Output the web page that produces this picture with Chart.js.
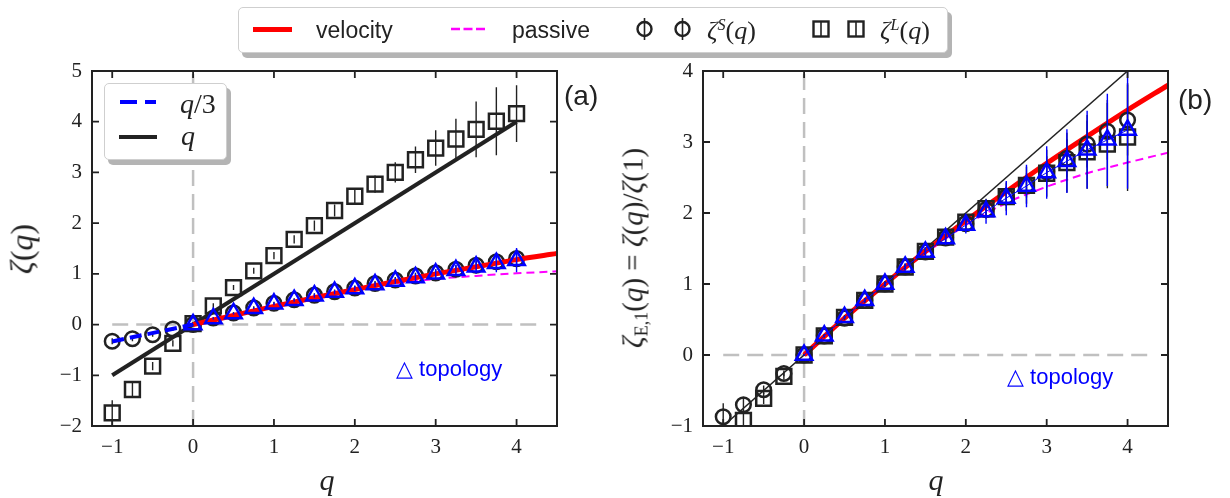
<!DOCTYPE html>
<html>
<head>
<meta charset="utf-8">
<script src="https://cdn.jsdelivr.net/npm/chart.js@4.4.0/dist/chart.umd.min.js"></script>
<style>
html,body{margin:0;padding:0;background:#fff;}
#wrap{position:relative;width:1230px;height:498px;overflow:hidden;background:#fff;}
canvas{position:absolute;top:0;}
.abs{position:absolute;white-space:nowrap;z-index:5;}
.sans{font-family:"Liberation Sans",Arial,sans-serif;color:#222;}
.math{font-family:"Liberation Serif","DejaVu Serif",serif;color:#222;}
.box{position:absolute;box-sizing:border-box;background:#fff;border:1.5px solid #cfcfcf;border-radius:5px;box-shadow:4px 5px 0 #b4b4b4;z-index:4;}
.vc{transform:translateY(-50%);}
sup{font-size:0.62em;vertical-align:0.55em;line-height:0;}
sub{font-size:0.62em;vertical-align:-0.3em;line-height:0;}
</style>
</head>
<body>
<div id="wrap">
  <canvas id="ca" width="620" height="498" style="left:0"></canvas>
  <canvas id="cb" width="610" height="498" style="left:620px"></canvas>

  <!-- top legend -->
  <div class="box" style="left:238px;top:7px;width:710px;height:46px;"></div>
  <div class="abs" style="left:253px;top:27px;width:39px;height:4.5px;background:#ff0000;"></div>
  <div class="abs sans vc" style="left:316px;top:30px;font-size:23px;">velocity</div>
  <svg class="abs" style="left:450px;top:24px;" width="36" height="10"><line x1="1" y1="5" x2="35" y2="5" stroke="#ff00ff" stroke-width="2.5" stroke-dasharray="9,3.5"/></svg>
  <div class="abs sans vc" style="left:512px;top:30px;font-size:23px;">passive</div>
  <svg class="abs" style="left:630px;top:15px;" width="70" height="30">
    <circle cx="14.5" cy="14" r="7" fill="none" stroke="#222" stroke-width="2.4"/>
    <line x1="14.5" y1="3" x2="14.5" y2="25" stroke="#222" stroke-width="1.6"/>
    <circle cx="52.5" cy="14" r="7" fill="none" stroke="#222" stroke-width="2.4"/>
    <line x1="52.5" y1="3" x2="52.5" y2="25" stroke="#222" stroke-width="1.6"/>
  </svg>
  <div class="abs math vc" style="left:707px;top:31px;font-size:26px;"><i>ζ</i><sup><i>S</i></sup>(<i>q</i>)</div>
  <svg class="abs" style="left:806px;top:15px;" width="70" height="30">
    <rect x="7.5" y="6.5" width="15" height="15" fill="none" stroke="#222" stroke-width="2.4"/>
    <line x1="15" y1="6" x2="15" y2="22" stroke="#222" stroke-width="1.6"/>
    <rect x="42.5" y="6.5" width="15" height="15" fill="none" stroke="#222" stroke-width="2.4"/>
    <line x1="50" y1="6" x2="50" y2="22" stroke="#222" stroke-width="1.6"/>
  </svg>
  <div class="abs math vc" style="left:880px;top:31px;font-size:26px;"><i>ζ</i><sup><i>L</i></sup>(<i>q</i>)</div>

  <!-- inner legend, panel (a) -->
  <div class="box" style="left:104px;top:83px;width:123px;height:77px;"></div>
  <svg class="abs" style="left:118px;top:96px;" width="42" height="12"><line x1="2" y1="6" x2="38" y2="6" stroke="#0000ff" stroke-width="4" stroke-dasharray="17,8"/></svg>
  <div class="abs math vc" style="left:180px;top:104px;font-size:28px;"><i>q</i>/3</div>
  <div class="abs" style="left:119px;top:135px;width:38px;height:4px;background:#222;"></div>
  <div class="abs math vc" style="left:181px;top:136px;font-size:28px;"><i>q</i></div>

  <!-- panel labels -->
  <div class="abs sans vc" style="left:564px;top:96px;font-size:28px;">(a)</div>
  <div class="abs sans vc" style="left:1178px;top:100px;font-size:28px;">(b)</div>
  <div class="abs sans vc" style="left:396px;top:369px;font-size:22px;color:#0000ff;">△ topology</div>
  <div class="abs sans vc" style="left:1007px;top:377px;font-size:22px;color:#0000ff;">△ topology</div>

  <!-- axis titles -->
  <div class="abs math" style="left:22px;top:249px;font-size:32px;transform:translate(-50%,-50%) rotate(-90deg);"><i>ζ</i>(<i>q</i>)</div>
  <div class="abs math" style="left:633px;top:248px;font-size:29px;transform:translate(-50%,-50%) rotate(-90deg);"><i>ζ</i><sub>E,1</sub>(<i>q</i>) = <i>ζ</i>(<i>q</i>)/<i>ζ</i>(1)</div>
  <div class="abs math" style="left:327px;top:465px;font-size:30px;line-height:30px;transform:translateX(-50%);"><i>q</i></div>
  <div class="abs math" style="left:936px;top:465px;font-size:30px;line-height:30px;transform:translateX(-50%);"><i>q</i></div>
</div>

<script>
// ---------- data ----------
const qAll = [-1,-0.75,-0.5,-0.25,0,0.25,0.5,0.75,1,1.25,1.5,1.75,2,2.25,2.5,2.75,3,3.25,3.5,3.75,4];
const qPos = [0,0.25,0.5,0.75,1,1.25,1.5,1.75,2,2.25,2.5,2.75,3,3.25,3.5,3.75,4];
const qModel = [0,0.5,1,1.5,2,2.5,3,3.5,4,4.5];

// reference lines
const lineQx = [-1,4];
const lineQy = [-1,4];
const lineQ3x = [-1,0];
const lineQ3y = [-0.333,0];
const zeroHx = [-1,4.25];
const zeroHy = [0,0];
const zeroVx = [0,0];
const zeroVyA = [-2,5];
const zeroVyB = [-1,4];

// panel (a): zeta(q)
const zetaS_a = [-0.33,-0.28,-0.2,-0.09,0,0.13,0.23,0.33,0.42,0.49,0.58,0.65,0.72,0.81,0.88,0.96,1.02,1.09,1.17,1.24,1.30];
const errS_a  = [0.06,0.05,0.04,0.03,0.01,0.02,0.02,0.03,0.03,0.03,0.04,0.04,0.05,0.05,0.06,0.06,0.07,0.08,0.09,0.1,0.12];
const zetaL_a = [-1.74,-1.28,-0.82,-0.37,0.02,0.37,0.73,1.06,1.36,1.68,1.95,2.25,2.53,2.77,3.0,3.25,3.48,3.66,3.85,4.01,4.16];
const errL_a  = [0.25,0.15,0.08,0.06,0.03,0.05,0.05,0.06,0.07,0.08,0.1,0.12,0.15,0.17,0.2,0.26,0.35,0.4,0.55,0.67,0.56];
const zetaT_a = [0,0.12,0.22,0.32,0.41,0.48,0.57,0.64,0.71,0.79,0.86,0.93,1.0,1.07,1.14,1.21,1.27];
const errT_a  = [0.01,0.02,0.02,0.02,0.03,0.03,0.04,0.04,0.05,0.05,0.06,0.07,0.09,0.11,0.14,0.18,0.24];
const velA = [0,0.18,0.36,0.53,0.69,0.85,1.0,1.14,1.28,1.40];
const pasA = [0,0.19,0.37,0.54,0.68,0.81,0.9,0.96,1.01,1.05];

// panel (b): zeta(q)/zeta(1)
const zetaS_b = [-0.87,-0.70,-0.49,-0.26,0,0.27,0.52,0.77,1.0,1.24,1.45,1.65,1.85,2.05,2.23,2.39,2.58,2.77,2.97,3.15,3.31];
const errS_b  = [0.19,0.1,0.06,0.04,0.01,0.02,0.02,0.03,0.03,0.04,0.05,0.06,0.08,0.1,0.13,0.17,0.22,0.27,0.33,0.4,0.5];
const zetaL_b = [-1.28,-0.92,-0.61,-0.30,0,0.27,0.53,0.77,1.0,1.24,1.46,1.66,1.87,2.06,2.23,2.39,2.56,2.71,2.86,2.97,3.07];
const errL_b  = [0.2,0.12,0.08,0.05,0.01,0.02,0.03,0.03,0.04,0.05,0.06,0.08,0.1,0.14,0.2,0.26,0.33,0.42,0.52,0.62,0.76];
const zetaT_b = [0,0.27,0.53,0.77,1.0,1.24,1.45,1.64,1.83,2.02,2.21,2.38,2.57,2.73,2.89,3.03,3.17];
const errT_b  = [0.01,0.02,0.02,0.03,0.03,0.05,0.07,0.09,0.12,0.17,0.24,0.3,0.37,0.45,0.55,0.65,0.83];
const velB = [0,0.52,1.0,1.46,1.89,2.3,2.7,3.08,3.45,3.80];
const pasB = [0,0.53,1.0,1.43,1.83,2.14,2.37,2.56,2.71,2.85];

// ---------- helpers ----------
const INK = '#222222', BLUE = '#0000ff', RED = '#ff0000', MAG = '#ff00ff', GRAY = '#c0c0c0';
function pts(xs, ys){ return xs.map((x,i)=>({x:x, y:ys[i]})); }
function errPts(xs, ys, es){
  const out = [];
  xs.forEach((x,i)=>{ out.push({x:x,y:ys[i]-es[i]},{x:x,y:ys[i]+es[i]},{x:x,y:null}); });
  return out;
}
function lineDs(data, color, width, dash, order, extra){
  return Object.assign({data:data, showLine:true, borderColor:color, backgroundColor:color,
    borderWidth:width, borderDash:dash||[], pointRadius:0, pointHoverRadius:0, spanGaps:false,
    tension:0, order:order}, extra||{});
}
function markDs(data, style, radius, color, order){
  return {data:data, showLine:false, pointStyle:style, pointRadius:radius, pointHoverRadius:radius,
    pointBorderWidth:2.5, pointBorderColor:color, pointBackgroundColor:'rgba(0,0,0,0)',
    borderColor:color, backgroundColor:'rgba(0,0,0,0)', order:order};
}
const fmt = v => (v < 0 ? '\u2212' : '') + Math.abs(v);
const tickFont = {family:'"Liberation Serif","DejaVu Serif",serif', size:21};
function scales(xmin,xmax,ymin,ymax,yw){
  return {
    x:{type:'linear',min:xmin,max:xmax,
       ticks:{stepSize:1,includeBounds:false,padding:9,font:tickFont,color:INK,callback:fmt,maxRotation:0,autoSkip:false},
       grid:{display:false,drawTicks:false},border:{display:false},
       afterFit(s){ s.height = 72; }},
    y:{type:'linear',min:ymin,max:ymax,
       ticks:{stepSize:1,includeBounds:false,padding:10,font:tickFont,color:INK,callback:fmt,autoSkip:false},
       grid:{display:false,drawTicks:false},border:{display:false},
       afterFit(s){ s.width = yw; }}
  };
}
const frame = {
  id:'frame',
  afterDatasetsDraw(chart){
    const ctx = chart.ctx, a = chart.chartArea, x = chart.scales.x, y = chart.scales.y;
    const L = 7;
    ctx.save();
    ctx.strokeStyle = INK;
    ctx.lineWidth = 1.8;
    ctx.beginPath();
    x.ticks.forEach(t=>{ const p = x.getPixelForValue(t.value);
      ctx.moveTo(p,a.bottom); ctx.lineTo(p,a.bottom-L); ctx.moveTo(p,a.top); ctx.lineTo(p,a.top+L); });
    y.ticks.forEach(t=>{ const p = y.getPixelForValue(t.value);
      ctx.moveTo(a.left,p); ctx.lineTo(a.left+L,p); ctx.moveTo(a.right,p); ctx.lineTo(a.right-L,p); });
    ctx.stroke();
    ctx.lineWidth = 2;
    ctx.strokeRect(a.left, a.top, a.right-a.left, a.bottom-a.top);
    ctx.restore();
  }
};
function makeChart(id, datasets, sc, pad){
  return new Chart(document.getElementById(id), {
    type:'scatter',
    data:{datasets:datasets},
    options:{responsive:false, animation:false, events:[], devicePixelRatio:1,
      layout:{padding:pad},
      plugins:{legend:{display:false}, tooltip:{enabled:false}},
      scales:sc},
    plugins:[frame]
  });
}

// ---------- panel (a) ----------
const dsA = [
  lineDs(pts(zeroHx,zeroHy), GRAY, 2.5, [16,8], 100),
  lineDs(pts(zeroVx,zeroVyA), GRAY, 2.5, [16,8], 100),
  lineDs(pts(qModel,pasA), MAG, 2, [8,5], 50, {cubicInterpolationMode:'monotone'}),
  lineDs(pts(lineQx,lineQy), INK, 4, [], 45),
  lineDs(errPts(qAll,zetaL_a,errL_a), INK, 1.4, [], 41),
  markDs(pts(qAll,zetaL_a), 'rect', 10.5, INK, 40),
  lineDs(errPts(qAll,zetaS_a,errS_a), INK, 1.4, [], 39),
  markDs(pts(qAll,zetaS_a), 'circle', 7.3, INK, 38),
  lineDs(pts(qModel,velA), RED, 5, [], 30, {cubicInterpolationMode:'monotone'}),
  lineDs(pts(lineQ3x,lineQ3y), BLUE, 4, [12,6], 28),
  lineDs(errPts(qPos,zetaT_a,errT_a), BLUE, 1.4, [], 21),
  markDs(pts(qPos,zetaT_a), 'triangle', 9.5, BLUE, 20)
];
makeChart('ca', dsA, scales(-1.25,4.5,-2,5,92), {left:0, top:71, right:63, bottom:0});

// ---------- panel (b) ----------
const dsB = [
  lineDs(pts(zeroHx,zeroHy), GRAY, 2.5, [16,8], 100),
  lineDs(pts(zeroVx,zeroVyB), GRAY, 2.5, [16,8], 100),
  lineDs(pts(lineQx,lineQy), INK, 1.5, [], 60),
  lineDs(pts(qModel,pasB), MAG, 2, [8,5], 50, {cubicInterpolationMode:'monotone'}),
  lineDs(pts(qModel,velB), RED, 5, [], 45, {cubicInterpolationMode:'monotone'}),
  lineDs(errPts(qAll,zetaL_b,errL_b), INK, 1.4, [], 41),
  markDs(pts(qAll,zetaL_b), 'rect', 10.5, INK, 40),
  lineDs(errPts(qAll,zetaS_b,errS_b), INK, 1.4, [], 39),
  markDs(pts(qAll,zetaS_b), 'circle', 7.3, INK, 38),
  lineDs(errPts(qPos,zetaT_b,errT_b), BLUE, 1.4, [], 22),
  lineDs(pts(qPos,zetaT_b), BLUE, 1, [], 21),
  markDs(pts(qPos,zetaT_b), 'triangle', 9.5, BLUE, 20)
];
makeChart('cb', dsB, scales(-1.25,4.5,-1,4,83), {left:0, top:71, right:62, bottom:0});
</script>
</body>
</html>
